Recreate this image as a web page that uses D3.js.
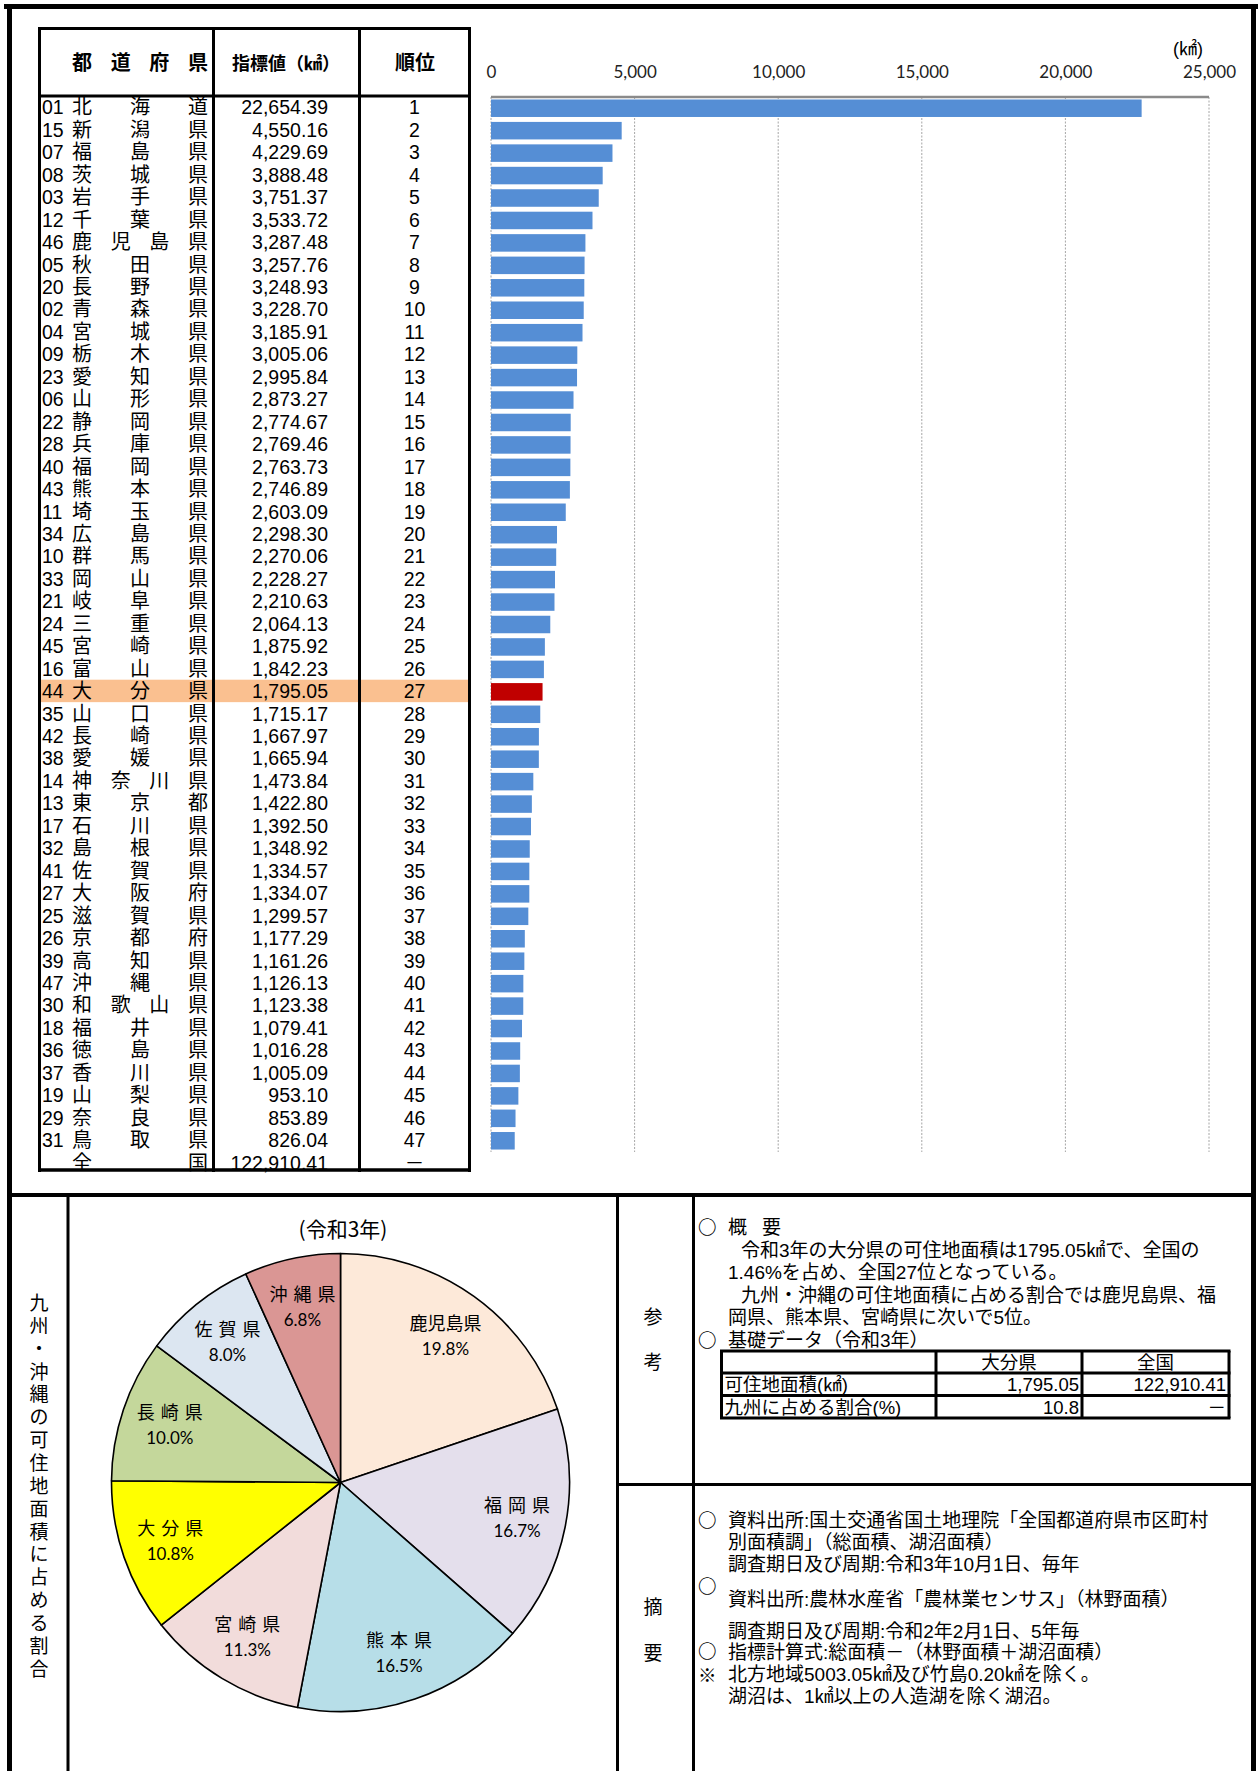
<!DOCTYPE html>
<html lang="ja">
<head>
<meta charset="utf-8">
<title>可住地面積</title>
<script src="https://cdn.jsdelivr.net/npm/d3@7"></script>
<style>
  html, body { margin: 0; padding: 0; background: #fff; }
  svg { display: block; }
  text { font-family: "Liberation Sans", "Noto Sans CJK JP", sans-serif; fill: #000; }
  .jp, .jp text { font-family: "Noto Sans CJK JP", sans-serif; }
  .tick text { font-family: Lato, sans-serif; font-size: 17px; fill: #222; }
  .pct { font-family: Lato, sans-serif; font-size: 17px; }
</style>
</head>
<body>
<div id="sheet"></div>
<script>
var width = 1258,
    height = 1771;

// ---- data ----
var prefCodes = ["01","15","07","08","03","12","46","05","20","02",
                 "04","09","23","06","22","28","40","43","11","34",
                 "10","33","21","24","45","16","44","35","42","38",
                 "14","13","17","32","41","27","25","26","39","47",
                 "30","18","36","37","19","29","31"];
var prefNames = ["北海道","新潟県","福島県","茨城県","岩手県","千葉県","鹿児島県","秋田県","長野県","青森県",
                 "宮城県","栃木県","愛知県","山形県","静岡県","兵庫県","福岡県","熊本県","埼玉県","広島県",
                 "群馬県","岡山県","岐阜県","三重県","宮崎県","富山県","大分県","山口県","長崎県","愛媛県",
                 "神奈川県","東京都","石川県","島根県","佐賀県","大阪府","滋賀県","京都府","高知県","沖縄県",
                 "和歌山県","福井県","徳島県","香川県","山梨県","奈良県","鳥取県"];
var areaValues = [22654.39, 4550.16, 4229.69, 3888.48, 3751.37, 3533.72, 3287.48, 3257.76, 3248.93, 3228.70,
                  3185.91, 3005.06, 2995.84, 2873.27, 2774.67, 2769.46, 2763.73, 2746.89, 2603.09, 2298.30,
                  2270.06, 2228.27, 2210.63, 2064.13, 1875.92, 1842.23, 1795.05, 1715.17, 1667.97, 1665.94,
                  1473.84, 1422.80, 1392.50, 1348.92, 1334.57, 1334.07, 1299.57, 1177.29, 1161.26, 1126.13,
                  1123.38, 1079.41, 1016.28, 1005.09, 953.10, 853.89, 826.04];
var rankLabels = ["1","2","3","4","5","6","7","8","9","10",
                  "11","12","13","14","15","16","17","18","19","20",
                  "21","22","23","24","25","26","27","28","29","30",
                  "31","32","33","34","35","36","37","38","39","40",
                  "41","42","43","44","45","46","47"];
var totalRow = ["全国", "122,910.41", "－"];
var highlightCode = "44";
var xTicks = [0, 5000, 10000, 15000, 20000, 25000];

var kyushuNames = ["鹿児島県","福岡県","熊本県","宮崎県","大分県","長崎県","佐賀県","沖縄県"];
var kyushuValues = [3287.48, 2763.73, 2746.89, 1875.92, 1795.05, 1667.97, 1334.57, 1126.13];
var kyushuColors = ["#FDE9D9","#E4DFEC","#B7DEE8","#F2DCDB","#FFFF00","#C4D79B","#DCE6F1","#DA9694"];

var basicHead = ["", "大分県", "全国"];
var basicRows = [["可住地面積(㎢)", "1,795.05", "122,910.41"],
                 ["九州に占める割合(%)", "10.8", "－"]];

var summaryLines = ["令和3年の大分県の可住地面積は1795.05㎢で、全国の",
                    "1.46%を占め、全国27位となっている。",
                    "九州・沖縄の可住地面積に占める割合では鹿児島県、福",
                    "岡県、熊本県、宮崎県に次いで5位。"];
var sourceLines = ["資料出所:国土交通省国土地理院「全国都道府県市区町村",
                   "別面積調」（総面積、湖沼面積）",
                   "調査期日及び周期:令和3年10月1日、毎年",
                   "資料出所:農林水産省「農林業センサス」（林野面積）",
                   "調査期日及び周期:令和2年2月1日、5年毎",
                   "指標計算式:総面積－（林野面積＋湖沼面積）",
                   "北方地域5003.05㎢及び竹島0.20㎢を除く。",
                   "湖沼は、1㎢以上の人造湖を除く湖沼。"];

var svg = d3.select("#sheet").append("svg")
            .attr("width", width)
            .attr("height", height);

svg.append("rect").attr("width", width).attr("height", height).attr("fill", "#fff");

// ---- ranking table ----
var rowH = 22.45,
    rowTop = 96;
var fmt = d3.format(",.2f");

var tbl = svg.append("g").attr("class", "table");

var rows = tbl.selectAll("g.row")
              .data(prefCodes.map(function(c, i) {
                return {code: c, name: prefNames[i], value: areaValues[i], rank: rankLabels[i]};
              }))
              .enter().append("g")
              .attr("class", "row")
              .attr("transform", function(d, i) {
                return "translate(0," + (rowTop + i * rowH) + ")";
              });

rows.filter(function(d) { return d.code === highlightCode; })
    .append("rect")
    .attr("x", 41).attr("y", 0)
    .attr("width", 427).attr("height", rowH)
    .attr("fill", "#FAC090");

var cy = rowH / 2 + 7.2;

rows.append("text")
    .attr("x", 42).attr("y", cy)
    .style("font-size", "19.5px")
    .text(function(d) { return d.code; });

// spread the name across the cell like the sheet does
function spreadName(sel) {
  sel.each(function(d) {
    var chars = Array.from(d.name),
        n = chars.length,
        g = d3.select(this);
    chars.forEach(function(ch, k) {
      g.append("text")
       .attr("x", 72 + k * (116 / (n - 1)))
       .attr("y", cy)
       .style("font-size", "20px")
       .text(ch);
    });
  });
}
rows.call(spreadName);

rows.append("text")
    .attr("x", 328).attr("y", cy)
    .attr("text-anchor", "end")
    .style("font-size", "19.5px")
    .text(function(d) { return fmt(d.value); });

rows.append("text")
    .attr("x", 414.5).attr("y", cy)
    .attr("text-anchor", "middle")
    .style("font-size", "19.5px")
    .text(function(d) { return d.rank; });

var totalG = tbl.append("g")
                .datum({name: totalRow[0]})
                .attr("transform", "translate(0," + (rowTop + 47 * rowH) + ")");
totalG.call(spreadName);
totalG.append("text").attr("x", 328).attr("y", cy).attr("text-anchor", "end")
      .style("font-size", "19.5px").text(totalRow[1]);
totalG.append("text").attr("x", 414.5).attr("y", cy).attr("text-anchor", "middle")
      .style("font-size", "19.5px").text(totalRow[2]);

// header
var head = tbl.append("g");
Array.from("都道府県").forEach(function(ch, k) {
  head.append("text").attr("x", 72 + k * (116 / 3)).attr("y", 70)
      .style("font-size", "20px").style("font-weight", "bold").text(ch);
});
head.append("text").attr("x", 286).attr("y", 70).attr("text-anchor", "middle")
    .style("font-size", "18px").style("font-weight", "bold").text("指標値（㎢）");
head.append("text").attr("x", 415).attr("y", 70).attr("text-anchor", "middle")
    .style("font-size", "20px").style("font-weight", "bold").text("順位");

// table rules
var rule = function(x1, y1, x2, y2, w) {
  svg.append("line")
     .attr("x1", x1).attr("y1", y1).attr("x2", x2).attr("y2", y2)
     .attr("stroke", "#000").attr("stroke-width", w);
};
rule(38, 28.5, 471, 28.5, 3);
rule(38, 96, 471, 96, 3);
rule(38, 1170, 471, 1170, 3.5);
rule(39.5, 27, 39.5, 1172, 3);
rule(213.5, 27, 213.5, 1172, 3);
rule(359.5, 27, 359.5, 1172, 3);
rule(469.5, 27, 469.5, 1172, 3);

// ---- bar chart ----
var x = d3.scaleLinear().domain([0, 25000]).range([491, 1209]);
var y = d3.scaleBand()
          .domain(d3.range(prefCodes.length))
          .range([97, 1152])
          .paddingInner(0.22)
          .paddingOuter(0.11);

svg.append("g").selectAll("line")
   .data(xTicks)
   .enter().append("line")
   .attr("x1", function(d) { return x(d); })
   .attr("x2", function(d) { return x(d); })
   .attr("y1", 97).attr("y2", 1152)
   .attr("stroke", "#a6a6a6")
   .attr("stroke-width", 1)
   .attr("stroke-dasharray", "2,1.5");

svg.append("line")
   .attr("x1", x(0)).attr("x2", x(25000))
   .attr("y1", 97).attr("y2", 97)
   .attr("stroke", "#8a8a8a").attr("stroke-width", 2.5);

svg.append("g")
   .selectAll("rect")
   .data(areaValues)
   .enter().append("rect")
   .attr("x", x(0))
   .attr("y", function(d, i) { return y(i); })
   .attr("width", function(d) { return x(d) - x(0); })
   .attr("height", y.bandwidth())
   .attr("fill", function(d, i) {
     return prefCodes[i] === highlightCode ? "#C00000" : "#558ED5";
   });

svg.append("g")
   .attr("transform", "translate(0,97)")
   .call(d3.axisTop(x).tickValues(xTicks).tickFormat(d3.format(",")).tickSize(0).tickPadding(19))
   .call(function(g) { g.select(".domain").remove(); });

svg.append("text")
   .attr("x", 1188).attr("y", 55)
   .attr("text-anchor", "middle")
   .style("font-size", "18px")
   .text("(㎢)");

// ---- bottom frame ----
rule(4, 6.5, 1258, 6.5, 5);
rule(9.5, 4, 9.5, 1771, 5);
rule(1253.5, 4, 1253.5, 1771, 5);
rule(9.5, 1195, 1253.5, 1195, 4);
rule(68, 1195, 68, 1771, 3);
rule(617.5, 1195, 617.5, 1771, 3);
rule(693.5, 1195, 693.5, 1771, 3);
rule(617.5, 1484.5, 1253.5, 1484.5, 3);

// vertical caption
svg.append("g").selectAll("text")
   .data(Array.from("九州・沖縄の可住地面積に占める割合"))
   .enter().append("text")
   .attr("x", 39).attr("y", function(d, i) { return 1303 + i * 22.85 + 7; })
   .attr("text-anchor", "middle")
   .style("font-size", "19px")
   .text(function(d) { return d; });

// ---- pie ----
var pieCx = 340.5, pieCy = 1482.5, pieR = 229;
var pie = d3.pie().sort(null).value(function(d) { return d; });
var arcs = pie(kyushuValues);
var arc = d3.arc().innerRadius(0).outerRadius(pieR);
var labelArc = d3.arc().innerRadius(180).outerRadius(180);
var total = d3.sum(kyushuValues);

var pg = svg.append("g").attr("transform", "translate(" + pieCx + "," + pieCy + ")");
pg.selectAll("path")
  .data(arcs)
  .enter().append("path")
  .attr("d", arc)
  .attr("fill", function(d, i) { return kyushuColors[i]; })
  .attr("stroke", "#000")
  .attr("stroke-width", 1.6)
  .attr("stroke-linejoin", "round");

var lab = pg.selectAll("g.lab")
            .data(arcs)
            .enter().append("g")
            .attr("class", "lab")
            .attr("transform", function(d) { return "translate(" + labelArc.centroid(d) + ")"; });
lab.append("text")
   .attr("class", "jp")
   .attr("y", -6)
   .attr("text-anchor", "middle")
   .style("font-size", "18px")
   .style("letter-spacing", function(d, i) { return kyushuNames[i].length === 3 ? "6px" : "0px"; })
   .attr("dx", function(d, i) { return kyushuNames[i].length === 3 ? 3 : 0; })
   .text(function(d, i) { return kyushuNames[i]; });
lab.append("text")
   .attr("class", "pct")
   .attr("y", 19)
   .attr("text-anchor", "middle")
   .text(function(d) { return d3.format(".1f")(d.data / total * 100) + "%"; });

svg.append("text")
   .attr("class", "jp")
   .attr("x", 343).attr("y", 1237)
   .attr("text-anchor", "middle")
   .style("font-size", "21px")
   .text("(令和3年)");

// ---- notes ----
var side = svg.append("g").style("font-size", "19px");
[["参", 1317], ["考", 1362], ["摘", 1607], ["要", 1653]].forEach(function(p) {
  side.append("text").attr("x", 653).attr("y", p[1] + 7).attr("text-anchor", "middle").text(p[0]);
});

var note = function(str, x0, yc) {
  return side.append("text").attr("x", x0).attr("y", yc + 7).text(str);
};
var mark = function(str, x0, yc) {
  return note(str, x0, yc).attr("class", "jp").style("font-size", "18.5px").style("font-weight", "bold");
};
mark("○", 698, 1227);
note("概", 728, 1227);
note("要", 762, 1227);
note(summaryLines[0], 741, 1249.5);
note(summaryLines[1], 728, 1272);
note(summaryLines[2], 741, 1294.5);
note(summaryLines[3], 728, 1317);
mark("○", 698, 1339.5);
note("基礎データ（令和3年）", 728, 1339.5);

mark("○", 698, 1520);
note(sourceLines[0], 728, 1520);
note(sourceLines[1], 728, 1542);
note(sourceLines[2], 728, 1564);
mark("○", 698, 1586);
note(sourceLines[3], 728, 1599);
note(sourceLines[4], 728, 1631);
mark("○", 698, 1651);
note(sourceLines[5], 728, 1652);
note("※", 698, 1675).style("font-size", "18.5px");
note(sourceLines[6], 728, 1674);
note(sourceLines[7], 728, 1696);

// basic data table
var bx = [721.5, 936, 1082, 1229],
    by = [1351, 1373, 1395.5, 1418];
var bt = svg.append("g").style("font-size", "18.5px");
bt.selectAll("text.h")
  .data(basicHead)
  .enter().append("text")
  .attr("x", function(d, i) { return i === 0 ? bx[0] + 3 : (bx[i] + bx[i + 1]) / 2; })
  .attr("y", (by[0] + by[1]) / 2 + 7)
  .attr("text-anchor", function(d, i) { return i === 0 ? "start" : "middle"; })
  .text(function(d) { return d; });
basicRows.forEach(function(r, j) {
  var yc = (by[j + 1] + by[j + 2]) / 2 + 7;
  r.forEach(function(c, i) {
    bt.append("text")
      .attr("x", i === 0 ? bx[0] + 3 : bx[i + 1] - 3)
      .attr("y", yc)
      .attr("text-anchor", i === 0 ? "start" : "end")
      .text(c);
  });
});
by.forEach(function(v) { rule(bx[0] - 1.5, v, bx[3] + 1.5, v, 3); });
bx.forEach(function(v) { rule(v, by[0], v, by[3], 3); });
</script>
</body>
</html>
